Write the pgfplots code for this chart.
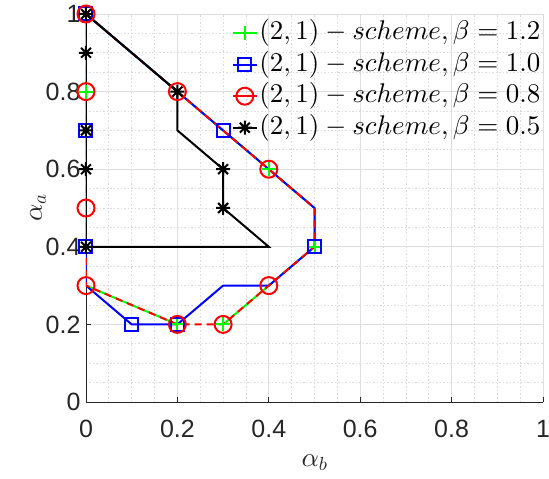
\documentclass[border=0pt]{standalone}
\usepackage{pgfplots}
\pgfplotsset{compat=1.18}
\usepackage{fontspec}
\DeclareFontShape{OML}{cmm}{m}{it}{<->cmmi10}{}
\DeclareFontShape{OMS}{cmsy}{m}{n}{<->cmsy10}{}
\DeclareFontShape{OT1}{cmr}{m}{n}{<->cmr10}{}
\newfontfamily\ticksans{Liberation Sans}
\definecolor{mgreen}{rgb}{0,1,0}
\definecolor{mblue}{rgb}{0,0,1}
\definecolor{mred}{rgb}{1,0,0}
\definecolor{axgray}{rgb}{0.15,0.15,0.15}
\pgfdeclareplotmark{mstar}{%
  \pgfpathmoveto{\pgfqpoint{0pt}{\pgfplotmarksize}}\pgfpathlineto{\pgfqpoint{0pt}{-\pgfplotmarksize}}%
  \pgfpathmoveto{\pgfqpoint{\pgfplotmarksize}{0pt}}\pgfpathlineto{\pgfqpoint{-\pgfplotmarksize}{0pt}}%
  \pgfpathmoveto{\pgfqpoint{.707\pgfplotmarksize}{.707\pgfplotmarksize}}\pgfpathlineto{\pgfqpoint{-.707\pgfplotmarksize}{-.707\pgfplotmarksize}}%
  \pgfpathmoveto{\pgfqpoint{-.707\pgfplotmarksize}{.707\pgfplotmarksize}}\pgfpathlineto{\pgfqpoint{.707\pgfplotmarksize}{-.707\pgfplotmarksize}}%
  \pgfusepathqstroke}
\begin{document}
\begin{tikzpicture}
\useasboundingbox (-86pt,-77pt) rectangle (463pt,402pt);
\begin{axis}[
  at={(0pt,0pt)}, anchor=south west,
  scale only axis, width=457pt, height=388pt,
  xmin=0, xmax=1, ymin=0, ymax=1,
  axis x line*=bottom, axis y line*=left,
  axis line style={axgray, line width=0.9pt, -},
  xtick={0,0.2,0.4,0.6,0.8,1}, ytick={0,0.2,0.4,0.6,0.8,1},
  minor tick num=3,
  grid=both,
  major grid style={color=black!13, line width=0.9pt},
  minor grid style={color=black!14, line width=0.8pt, dash pattern=on 1.5pt off 2pt},
  tick align=inside, major tick length=5pt, minor tick length=0pt,
  tick style={axgray, line width=0.9pt},
  /pgf/number format/assume math mode=true,
  tick label style={font=\ticksans\fontsize{25}{25}\selectfont, text=axgray},
  xticklabel style={yshift=-15pt},
  yticklabel style={xshift=-2pt},
  xlabel={$\alpha_b$}, ylabel={$\alpha_a$},
  label style={font=\fontsize{27}{27}\selectfont, text=axgray},
  xlabel style={yshift=-10pt},
  ylabel style={yshift=-7pt},
  legend cell align=left,
  legend style={at={(1,1)}, anchor=north east, yshift=-2.5pt, draw=none, fill=none,
    font=\fontsize{27}{27}\selectfont, row sep=0.5pt, column sep=0pt, inner sep=1pt,
    nodes={inner sep=1.5pt, text height=20.5pt, text depth=7.5pt}},
  legend image code/.code={\draw[mark repeat=2,mark phase=2,#1] plot coordinates {(0pt,0pt)(12pt,0pt)(24pt,0pt)};},
]
% beta = 1.2 (green)
\addplot[mgreen, line width=2pt, forget plot] coordinates {
 (0.2,0.2) (0,0.3) (0,0.8) (0,1) (0.2,0.8) (0.4,0.6) (0.5,0.5) (0.5,0.4) (0.4,0.3) (0.3,0.2)};
\addplot[mgreen, line width=2pt, only marks, mark=+, mark size=7pt, forget plot] coordinates {
 (0.2,0.2) (0,0.8) (0,1) (0.4,0.6) (0.5,0.4) (0.3,0.2)};
% beta = 1.0 (blue)
\addplot[mblue, line width=2pt, forget plot] coordinates {
 (0,1) (0.2,0.8) (0.3,0.7) (0.4,0.6) (0.5,0.5) (0.5,0.4) (0.4,0.3) (0.3,0.3) (0.2,0.2) (0.1,0.2) (0,0.3) (0,0.4) (0,0.7) (0,1)};
\addplot[mblue, line width=2pt, only marks, mark=square, mark size=6.5pt, forget plot] coordinates {
 (0,1) (0.3,0.7) (0.5,0.4) (0.2,0.2) (0.1,0.2) (0,0.4) (0,0.7)};
% beta = 0.8 (red)
\addplot[mred, line width=2pt, dash pattern=on 7pt off 5pt, forget plot] coordinates {
 (0,1) (0.2,0.8) (0.4,0.6) (0.5,0.5) (0.5,0.4) (0.4,0.3) (0.3,0.2) (0.2,0.2) (0,0.3) (0,0.5) (0,0.8) (0,1)};
\addplot[mred, line width=2pt, only marks, mark=o, mark size=8.5pt, forget plot] coordinates {
 (0,1) (0.2,0.8) (0.4,0.6) (0.4,0.3) (0.3,0.2) (0.2,0.2) (0,0.3) (0,0.5) (0,0.8)};
% beta = 0.5 (black)
\addplot[black, line width=2pt, forget plot] coordinates {
 (0,1) (0.2,0.8) (0.2,0.7) (0.3,0.6) (0.3,0.5) (0.4,0.4) (0,0.4) (0,0.6) (0,0.7) (0,0.9) (0,1)};
\addplot[black, line width=2pt, only marks, mark=mstar, mark size=7pt, forget plot] coordinates {
 (0,1) (0.2,0.8) (0.3,0.6) (0.3,0.5) (0,0.4) (0,0.6) (0,0.7) (0,0.9)};
% legend
\addlegendimage{mgreen, line width=2pt, mark=+, mark size=7pt}
\addlegendentry{$(2,1)-scheme,\beta=1.2$}
\addlegendimage{mblue, line width=2pt, mark=square, mark size=6.5pt}
\addlegendentry{$(2,1)-scheme,\beta=1.0$}
\addlegendimage{mred, line width=2pt, mark=o, mark size=8.5pt}
\addlegendentry{$(2,1)-scheme,\beta=0.8$}
\addlegendimage{black, line width=2pt, mark=mstar, mark size=7pt}
\addlegendentry{$(2,1)-scheme,\beta=0.5$}
\end{axis}
\end{tikzpicture}
\end{document}
